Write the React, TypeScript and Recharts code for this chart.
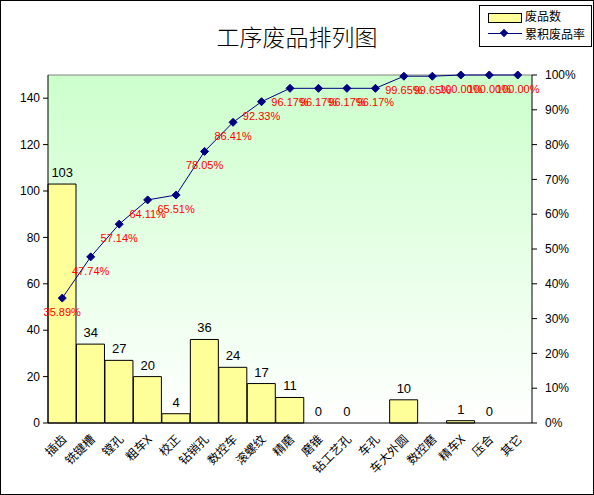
import React from "react";
import {
  ComposedChart,
  Bar,
  Line,
  XAxis,
  YAxis,
  CartesianGrid,
  LabelList,
  ReferenceLine,
} from "recharts";

const categories = [
  "插齿", "铣键槽", "镗孔", "粗车X", "校正", "钻销孔", "数控车", "滚螺纹", "精磨",
  "磨锥", "钻工艺孔", "车孔", "车大外圆", "数控磨", "精车X", "压合", "其它",
];
const defects: (number | null)[] = [103, 34, 27, 20, 4, 36, 24, 17, 11, 0, 0, null, 10, null, 1, 0, null];
const cumulative = [35.89, 47.74, 57.14, 64.11, 65.51, 78.05, 86.41, 92.33, 96.17, 96.17, 96.17, 96.17, 99.65, 99.65, 100, 100, 100];
const leftTicks = [0, 20, 40, 60, 80, 100, 120, 140];
const rightTicks = [0, 10, 20, 30, 40, 50, 60, 70, 80, 90, 100];

const data = categories.map((name, i) => ({ name, count: defects[i], cum: cumulative[i] }));

const numFont = "'Liberation Sans', Arial, sans-serif";
const cjkFont = "'Noto Sans CJK SC', sans-serif";

const XTick = (props: any) => {
  const { x, y, payload } = props;
  return (
    <text
      x={x + 5}
      y={y + 9}
      textAnchor="end"
      fontSize={12}
      fontFamily={cjkFont}
      fill="#000"
      transform={`rotate(-45, ${x + 5}, ${y + 9})`}
    >
      {payload.value}
    </text>
  );
};

const Diamond = (props: any) => {
  const { cx, cy, index } = props;
  if (cx == null || cy == null) return <g key={index} />;
  const r = 4;
  return (
    <polygon
      key={index}
      points={`${cx},${cy - r} ${cx + r},${cy} ${cx},${cy + r} ${cx - r},${cy}`}
      fill="#000080"
      stroke="#000080"
    />
  );
};

export default function App() {
  return (
    <div style={{ position: "relative", width: 594, height: 495, boxSizing: "border-box", border: "1px solid #000", background: "#fff" }}>
      <style>{`body{margin:0}`}</style>
      <div
        style={{
          position: "absolute",
          left: 0,
          top: 18,
          width: 592,
          textAlign: "center",
          fontFamily: cjkFont,
          fontSize: 23,
          fontWeight: 300,
          color: "#000",
        }}
      >
        工序废品排列图
      </div>
      <div
        style={{
          position: "absolute",
          left: 478,
          top: 4,
          width: 113,
          height: 42,
          boxSizing: "border-box",
          border: "1px solid #000",
          background: "#fff",
          fontFamily: cjkFont,
          fontSize: 12,
          zIndex: 2,
        }}
      >
        <div style={{ position: "absolute", left: 8, top: 7, width: 32, height: 8, background: "#ffff99", border: "1px solid #000" }} />
        <div style={{ position: "absolute", left: 45, top: 1, lineHeight: "18px" }}>废品数</div>
        <div style={{ position: "absolute", left: 8, top: 27, width: 34, height: 1, background: "#000080" }} />
        <div style={{ position: "absolute", left: 21, top: 24, width: 6, height: 6, background: "#000080", transform: "rotate(45deg)" }} />
        <div style={{ position: "absolute", left: 45, top: 19, lineHeight: "18px" }}>累积废品率</div>
      </div>
      <ComposedChart
        width={592}
        height={493}
        data={data}
        margin={{ top: 74, right: 0, left: 0, bottom: 0 }}
        barCategoryGap={0}
      >
        <defs>
          <linearGradient id="bgGrad" x1="0" y1="0" x2="0" y2="1">
            <stop offset="0%" stopColor="#ccffcc" />
            <stop offset="100%" stopColor="#ffffff" />
          </linearGradient>
        </defs>
        <CartesianGrid yAxisId="left" horizontal={false} vertical={false} fill="url(#bgGrad)" />
        <XAxis
          dataKey="name"
          interval={0}
          height={71}
          tick={<XTick />}
          tickLine={false}
          axisLine={{ stroke: "#000" }}
        />
        <YAxis
          yAxisId="left"
          domain={[0, 150]}
          ticks={leftTicks}
          width={47}
          tickSize={5}
          tickMargin={3}
          axisLine={{ stroke: "#000" }}
          tickLine={{ stroke: "#000" }}
          tick={{ fill: "#000", fontSize: 12, fontFamily: numFont }}
        />
        <YAxis
          yAxisId="right"
          orientation="right"
          domain={[0, 100]}
          ticks={rightTicks}
          width={61}
          tickSize={5}
          tickMargin={8}
          axisLine={{ stroke: "#000" }}
          tickLine={{ stroke: "#000" }}
          tickFormatter={(v: number) => `${v}%`}
          tick={{ fill: "#000", fontSize: 12, fontFamily: numFont, textAnchor: "start" }}
        />
        <ReferenceLine yAxisId="left" y={150} stroke="#808080" />
        <Bar yAxisId="left" dataKey="count" fill="#ffff99" stroke="#000" strokeWidth={1} isAnimationActive={false} />
        <Line
          yAxisId="left"
          type="linear"
          dataKey="count"
          stroke="none"
          dot={false}
          activeDot={false}
          connectNulls={false}
          isAnimationActive={false}
          legendType="none"
        >
          <LabelList dataKey="count" position="top" offset={7} fill="#000" fontSize={13} fontFamily={numFont} />
        </Line>
        <Line
          yAxisId="right"
          type="linear"
          dataKey="cum"
          stroke="#000080"
          strokeWidth={1}
          dot={<Diamond />}
          activeDot={false}
          isAnimationActive={false}
        >
          <LabelList
            dataKey="cum"
            position="bottom"
            offset={10}
            fill="#ff0000"
            fontSize={11}
            fontFamily={numFont}
            formatter={(v: any) => `${Number(v).toFixed(2)}%`}
          />
        </Line>
      </ComposedChart>
    </div>
  );
}
